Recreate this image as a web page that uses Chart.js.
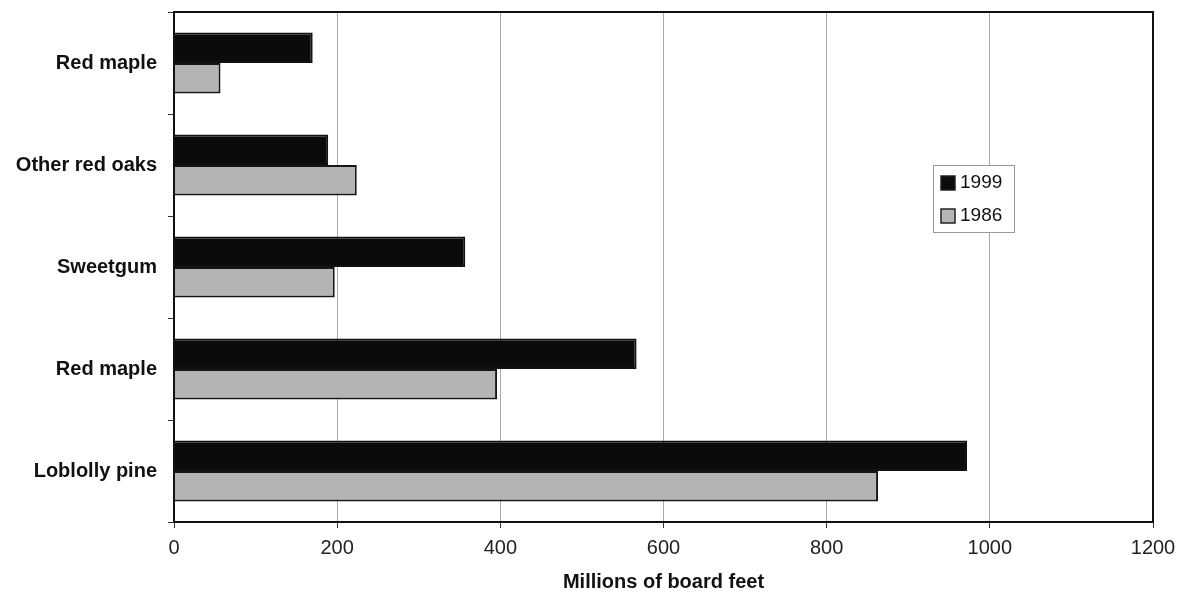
<!DOCTYPE html>
<html>
<head>
<meta charset="utf-8">
<script src="https://cdn.jsdelivr.net/npm/chart.js@4"></script>
<style>
  html, body { margin: 0; padding: 0; background: #ffffff; }
  #wrap { width: 1192px; height: 594px; position: relative; }
</style>
</head>
<body>
<div id="wrap"><canvas id="c" width="1192" height="594"></canvas></div>
<script>
const categories = ["Red maple", "Other red oaks", "Sweetgum", "Red maple", "Loblolly pine"];
const seriesNames = ["1999", "1986"];
const values1999 = [170, 189, 357, 567, 972];
const values1986 = [57, 224, 197, 396, 863];
const xTicks = [0, 200, 400, 600, 800, 1000, 1200];
const xTitle = "Millions of board feet";

const FONT = "'Liberation Sans', Arial, Helvetica, sans-serif";

const frameAndLegend = {
  id: 'frameAndLegend',
  afterDraw(chart) {
    const ctx = chart.ctx;
    const a = chart.chartArea;
    ctx.save();
    ctx.strokeStyle = '#111';
    ctx.lineWidth = 2;
    ctx.strokeRect(a.left, a.top, a.right - a.left, a.bottom - a.top);
    // legend
    const lx = 933, ly = 165, lw = 81, lh = 67;
    ctx.fillStyle = '#ffffff';
    ctx.fillRect(lx, ly, lw, lh);
    ctx.strokeStyle = '#999';
    ctx.lineWidth = 1;
    ctx.strokeRect(lx + 0.5, ly + 0.5, lw, lh);
    ctx.font = "19px " + FONT;
    ctx.textBaseline = 'middle';
    ctx.textAlign = 'left';
    chart.data.datasets.forEach((ds, i) => {
      const cy = ly + 18 + i * 33;
      ctx.fillStyle = ds.backgroundColor;
      ctx.fillRect(lx + 8, cy - 7, 14, 14);
      ctx.strokeStyle = '#222';
      ctx.lineWidth = 1.5;
      ctx.strokeRect(lx + 8, cy - 7, 14, 14);
      ctx.fillStyle = '#111';
      ctx.fillText(ds.label, lx + 27, cy);
    });
    ctx.restore();
  }
};

new Chart(document.getElementById('c'), {
  type: 'bar',
  data: {
    labels: categories,
    datasets: [
      { label: seriesNames[0], data: values1999, backgroundColor: '#0b0b0b', borderColor: '#111', borderWidth: 2 },
      { label: seriesNames[1], data: values1986, backgroundColor: '#b4b4b4', borderColor: '#151515', borderWidth: 2 }
    ]
  },
  options: {
    indexAxis: 'y',
    responsive: false,
    animation: false,
    categoryPercentage: 0.6,
    barPercentage: 1.0,
    layout: { padding: { top: 12, right: 39, left: 0, bottom: 0 } },
    plugins: { legend: { display: false }, tooltip: { enabled: false } },
    scales: {
      x: {
        min: 0, max: 1200,
        afterBuildTicks(scale) { scale.ticks = xTicks.map(v => ({ value: v })); },
        afterFit(scale) { scale.height = 72; scale.paddingLeft = 0; scale.paddingRight = 0; },
        grid: { color: '#a8a8a8', lineWidth: 1, tickColor: '#333', tickLength: 6 },
        border: { color: '#111', width: 2 },
        ticks: { color: '#222', font: { family: FONT, size: 20 }, padding: 8, maxRotation: 0,
                 callback: (v) => String(v) },
        title: { display: true, text: xTitle, color: '#111', font: { family: FONT, size: 20, weight: 'bold' }, padding: { top: 0, bottom: 0 } }
      },
      y: {
        afterFit(scale) { scale.width = 174; scale.paddingTop = 0; scale.paddingBottom = 0; },
        grid: { drawOnChartArea: false, drawTicks: true, tickColor: '#333', tickLength: 6, offset: true },
        border: { color: '#111', width: 2 },
        ticks: { color: '#111', font: { family: FONT, size: 20, weight: 'bold' }, padding: 11 }
      }
    }
  },
  plugins: [frameAndLegend]
});
</script>
</body>
</html>
